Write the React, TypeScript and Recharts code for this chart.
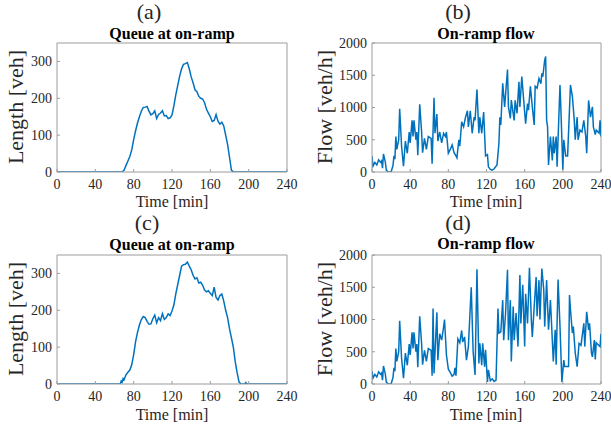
import React from 'react';
import { LineChart, Line, XAxis, YAxis, ReferenceLine } from 'recharts';

// [time (min), queue length (veh)]
const queueA: [number, number][] = [
  [0, 0], [68, 0], [70, 5], [72, 18], [74, 30], [76, 42], [78, 60], [80, 88], [82, 112], [84, 133],
  [86, 150], [88, 165], [90, 175], [92, 176], [94, 178], [96, 165], [98, 155], [100, 158], [102, 166],
  [104, 145], [106, 156], [108, 160], [110, 166], [112, 152], [114, 153], [116, 145], [118, 147],
  [120, 155], [122, 180], [124, 210], [126, 235], [128, 260], [130, 280], [132, 292], [134, 294],
  [136, 297], [138, 280], [140, 258], [142, 242], [144, 223], [146, 218], [148, 205], [150, 200],
  [152, 198], [154, 188], [156, 170], [158, 160], [160, 150], [162, 137], [164, 140], [166, 156],
  [168, 138], [170, 130], [172, 135], [174, 125], [176, 100], [178, 75], [180, 40], [182, 5],
  [184, 0], [240, 0],
];

const queueC: [number, number][] = [
  [0, 0], [66, 0], [67, 8], [68, 5], [69, 15], [70, 12], [72, 25], [74, 32], [76, 38], [78, 52],
  [80, 80], [82, 115], [84, 140], [86, 160], [88, 175], [90, 183], [92, 180], [94, 170], [96, 162],
  [98, 163], [100, 177], [102, 187], [104, 166], [106, 180], [108, 172], [110, 191], [112, 175],
  [114, 180], [116, 190], [118, 186], [120, 198], [122, 215], [124, 245], [126, 270], [128, 295],
  [130, 320], [132, 324], [134, 325], [136, 331], [138, 320], [140, 310], [142, 295], [144, 285],
  [146, 288], [148, 274], [150, 276], [152, 268], [154, 255], [156, 250], [158, 253], [160, 246],
  [162, 240], [164, 263], [166, 235], [168, 228], [170, 240], [172, 244], [174, 225], [176, 200],
  [178, 180], [180, 150], [182, 125], [184, 100], [186, 60], [188, 30], [190, 5], [192, 0],
  [196, 0], [197, 4], [198, 0], [240, 0],
];

// [time (min), on-ramp flow (veh/h)]
const flowB: [number, number][] = [
  [0, 250], [1, 90], [3, 150], [5, 110], [7, 190], [9, 150], [10, 170], [11, 60], [12, 280], [14, 150],
  [15, 30], [17, 0], [20, 0], [22, 100], [23, 250], [24, 200], [25, 550], [26, 350], [28, 500],
  [29, 980], [31, 400], [33, 90], [35, 480], [37, 290], [39, 620], [40, 450], [42, 800], [43, 550],
  [44, 800], [46, 500], [47, 620], [48, 260], [50, 1050], [52, 620], [53, 300], [55, 520], [57, 350],
  [59, 550], [62, 520], [63, 130], [65, 1150], [66, 600], [68, 900], [69, 480], [71, 620], [73, 450],
  [75, 600], [77, 550], [78, 620], [80, 290], [82, 350], [84, 420], [86, 300], [88, 250], [89, 220],
  [91, 500], [92, 400], [94, 780], [96, 700], [98, 850], [100, 950], [101, 700], [103, 950],
  [105, 600], [107, 850], [108, 800], [110, 1280], [112, 600], [113, 850], [115, 600], [117, 930],
  [119, 250], [121, 270], [122, 80], [124, 40], [126, 30], [128, 50], [131, 110], [133, 440],
  [134, 850], [135, 730], [137, 1375], [139, 1010], [142, 1590], [143, 1010], [145, 830], [146, 1115],
  [149, 800], [150, 1110], [152, 910], [154, 1400], [155, 1010], [157, 1480], [159, 1110], [161, 750],
  [163, 1060], [164, 960], [166, 1330], [168, 1010], [170, 730], [171, 1330], [173, 1300], [175, 1450],
  [177, 1370], [178, 1530], [179, 1480], [181, 1735], [182, 1790], [183, 800], [184, 700], [185, 110],
  [187, 550], [189, 180], [190, 550], [191, 290], [193, 550], [194, 80], [197, 1350], [198, 960],
  [200, 30], [201, 500], [203, 250], [205, 250], [208, 1350], [210, 1170], [212, 800], [213, 500],
  [215, 850], [216, 500], [218, 650], [220, 620], [222, 800], [224, 550], [225, 290], [227, 1110],
  [229, 850], [231, 1010], [232, 700], [234, 580], [235, 650], [238, 600], [239, 800], [240, 550],
];

const flowD: [number, number][] = [
  [0, 200], [1, 90], [3, 150], [5, 110], [7, 190], [9, 150], [10, 170], [11, 60], [12, 280], [14, 150],
  [15, 30], [17, 0], [20, 0], [22, 100], [23, 250], [24, 200], [25, 550], [26, 350], [28, 500],
  [29, 980], [31, 400], [33, 90], [35, 480], [37, 290], [39, 620], [40, 450], [42, 800], [43, 550],
  [44, 800], [46, 500], [47, 620], [48, 260], [50, 1050], [52, 620], [53, 300], [55, 520], [57, 350],
  [59, 550], [62, 520], [63, 130], [64, 1170], [65, 165], [68, 1110], [69, 370], [71, 780], [73, 680],
  [75, 880], [76, 1000], [78, 450], [80, 230], [82, 180], [84, 120], [86, 150], [87, 250], [88, 130],
  [90, 700], [92, 640], [94, 830], [95, 650], [97, 730], [99, 370], [101, 580], [104, 1500], [106, 500],
  [108, 140], [110, 1780], [112, 320], [113, 630], [115, 290], [116, 630], [118, 270], [119, 530],
  [121, 30], [122, 220], [124, 50], [126, 80], [128, 40], [130, 60], [132, 1170], [133, 790],
  [135, 810], [137, 1300], [138, 680], [140, 1100], [142, 1770], [143, 680], [145, 1300], [146, 350],
  [148, 1200], [149, 680], [151, 1100], [153, 580], [155, 1690], [156, 940], [158, 1540], [160, 580],
  [161, 1400], [163, 940], [165, 1800], [167, 990], [168, 730], [170, 1200], [172, 1660], [173, 1050],
  [175, 1610], [176, 1000], [178, 1790], [180, 1460], [181, 890], [183, 1610], [185, 840], [187, 1300],
  [188, 990], [190, 350], [192, 840], [193, 300], [195, 1620], [197, 900], [199, 30], [201, 370],
  [202, 270], [206, 270], [207, 1380], [208, 1150], [210, 790], [211, 890], [213, 480], [215, 270],
  [217, 630], [219, 600], [222, 940], [223, 580], [225, 1120], [227, 840], [228, 940], [230, 480],
  [231, 420], [233, 680], [234, 380], [235, 640], [237, 610], [239, 580], [240, 780],
];

const timeTicks = [0, 40, 80, 120, 160, 200, 240];
const queueTicks = [0, 100, 200, 300];
const flowTicks = [0, 500, 1000, 1500, 2000];

const BOX = '#9c9c9c';
const INK = '#262626';
const SERIF = '"Liberation Serif", "Times New Roman", Times, serif';

const BottomTick = (props: any) => (
  <text x={props.x} y={props.y} dy="0.71em" textAnchor="middle" fontFamily={SERIF} fontSize={14} fill={INK}>
    {props.payload.value}
  </text>
);

const LeftTick = (props: any) => (
  <text x={props.x} y={props.y} dy="0.34em" textAnchor="end" fontFamily={SERIF} fontSize={14} fill={INK}>
    {props.payload.value}
  </text>
);

interface PanelProps {
  x: number;
  y: number;
  w: number;
  h: number;
  series: [number, number][];
  yMax: number;
  yTicks: number[];
}

const Panel: React.FC<PanelProps> = ({ x, y, w, h, series, yMax, yTicks }) => {
  const data = series.map(([t, v]) => ({ t, v }));
  return (
    <div style={{ position: 'absolute', left: x - 45, top: y - 10 }}>
      <LineChart width={w + 60} height={h + 35} data={data} margin={{ top: 10, right: 15, left: 0, bottom: 0 }}>
        <XAxis
          dataKey="t"
          type="number"
          domain={[0, 240]}
          ticks={timeTicks}
          allowDataOverflow
          height={25}
          tickSize={-3}
          tickMargin={10}
          tick={<BottomTick />}
          stroke={BOX}
          interval={0}
        />
        <YAxis
          type="number"
          domain={[0, yMax]}
          ticks={yTicks}
          allowDataOverflow
          width={45}
          tickSize={-3}
          tickMargin={8}
          tick={<LeftTick />}
          stroke={BOX}
          interval={0}
        />
        {/* top and right edges of the box */}
        <ReferenceLine y={yMax} stroke={BOX} strokeWidth={1} ifOverflow="visible" />
        <ReferenceLine x={240} stroke={BOX} strokeWidth={1} ifOverflow="visible" />
        <Line
          type="linear"
          dataKey="v"
          stroke="#0072BD"
          strokeWidth={1.5}
          dot={false}
          isAnimationActive={false}
        />
      </LineChart>
    </div>
  );
};

const Label: React.FC<{ x: number; y: number; size: number; bold?: boolean; rotate?: boolean; children: React.ReactNode }> = ({
  x,
  y,
  size,
  bold,
  rotate,
  children,
}) => (
  <div
    style={{
      position: 'absolute',
      left: x,
      top: y,
      transform: `translate(-50%, -50%)${rotate ? ' rotate(-90deg)' : ''}`,
      fontFamily: SERIF,
      fontSize: size,
      fontWeight: bold ? 'bold' : 'normal',
      color: bold ? '#000' : INK,
      whiteSpace: 'nowrap',
      lineHeight: 1,
    }}
  >
    {children}
  </div>
);

export default function App() {
  return (
    <div style={{ position: 'absolute', left: 0, top: 0, width: 611, height: 427, background: '#fff', overflow: 'hidden' }}>
      <Panel x={57} y={43} w={230} h={129} series={queueA} yMax={350} yTicks={queueTicks} />
      <Panel x={372} y={43} w={229} h={129} series={flowB} yMax={2000} yTicks={flowTicks} />
      <Panel x={57} y={255} w={230} h={129} series={queueC} yMax={350} yTicks={queueTicks} />
      <Panel x={372} y={255} w={229} h={129} series={flowD} yMax={2000} yTicks={flowTicks} />

      <Label x={149} y={12} size={22}>(a)</Label>
      <Label x={172} y={34} size={16} bold>Queue at on-ramp</Label>
      <Label x={16} y={107} size={22} rotate>Length [veh]</Label>
      <Label x={172} y={202} size={16}>Time [min]</Label>

      <Label x={458} y={12} size={22}>(b)</Label>
      <Label x={486} y={34} size={16} bold>On-ramp flow</Label>
      <Label x={325} y={107} size={22} rotate>Flow [veh/h]</Label>
      <Label x={486} y={202} size={16}>Time [min]</Label>

      <Label x={147} y={223} size={22}>(c)</Label>
      <Label x={172} y={245} size={16} bold>Queue at on-ramp</Label>
      <Label x={16} y={319} size={22} rotate>Length [veh]</Label>
      <Label x={172} y={415} size={16}>Time [min]</Label>

      <Label x={458} y={223} size={22}>(d)</Label>
      <Label x={486} y={244} size={16} bold>On-ramp flow</Label>
      <Label x={325} y={319} size={22} rotate>Flow [veh/h]</Label>
      <Label x={486} y={415} size={16}>Time [min]</Label>
    </div>
  );
}
